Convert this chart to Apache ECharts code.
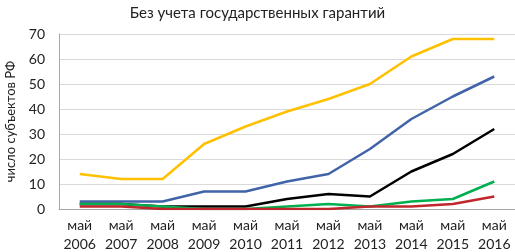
<!DOCTYPE html>
<html>
<head>
<meta charset="utf-8">
<script src="https://cdn.jsdelivr.net/npm/echarts@6/dist/echarts.min.js"></script>
<style>
  html, body { margin: 0; padding: 0; background: #fff; }
  #chart { width: 515px; height: 252px; }
</style>
</head>
<body>
<div id="chart"></div>
<script>
const years = ['2006', '2007', '2008', '2009', '2010', '2011', '2012', '2013', '2014', '2015', '2016'];
const categories = years.map(y => 'май\n' + y);

const yellowVals = [14, 12, 12, 26, 33, 39, 44, 50, 61, 68, 68];
const blueVals = [3, 3, 3, 7, 7, 11, 14, 24, 36, 45, 53];
const blackVals = [2, 2, 1, 1, 1, 4, 6, 5, 15, 22, 32];
const greenVals = [2, 2, 1, 0, 0, 1, 2, 1, 3, 4, 11];
const redVals = [1, 1, 0, 0, 0, 0, 0, 1, 1, 2, 5];

const font = 'Lato, "Open Sans", sans-serif';

const mkLine = (name, data, color) => ({
  name: name,
  type: 'line',
  data: data,
  symbol: 'none',
  lineStyle: { color: color, width: 2.5 },
  itemStyle: { color: color },
  emphasis: { disabled: true },
});

const myChart = echarts.init(document.getElementById('chart'));
const option = {
  animation: false,
  title: {
    text: 'Без учета государственных гарантий',
    left: 'center',
    top: 1,
    textStyle: { fontFamily: font, fontSize: 15, fontWeight: 'normal', color: '#222' },
  },
  grid: { left: 59, right: 0, top: 34, bottom: 43, outerBoundsMode: 'none' },
  xAxis: {
    type: 'category',
    data: categories,
    boundaryGap: true,
    axisLine: { lineStyle: { color: '#a6a6a6' } },
    axisTick: { show: false },
    axisLabel: { fontFamily: font, fontSize: 14, color: '#222', lineHeight: 19, margin: 7, interval: 0 },
  },
  yAxis: {
    type: 'value',
    min: 0,
    max: 70,
    interval: 10,
    name: 'число субъектов РФ',
    nameLocation: 'middle',
    nameGap: 42,
    nameTextStyle: { fontFamily: font, fontSize: 13, color: '#222' },
    axisLine: { show: true, lineStyle: { color: '#a6a6a6' } },
    axisTick: { show: false },
    axisLabel: { fontFamily: font, fontSize: 14, color: '#222', margin: 14 },
    splitLine: { lineStyle: { color: '#d9d9d9' } },
  },
  series: [
    mkLine('yellow', yellowVals, '#FFC000'),
    mkLine('blue', blueVals, '#4163A8'),
    mkLine('black', blackVals, '#000000'),
    mkLine('green', greenVals, '#00B050'),
    mkLine('red', redVals, '#C0272D'),
  ],
};
myChart.setOption(option);
</script>
</body>
</html>
